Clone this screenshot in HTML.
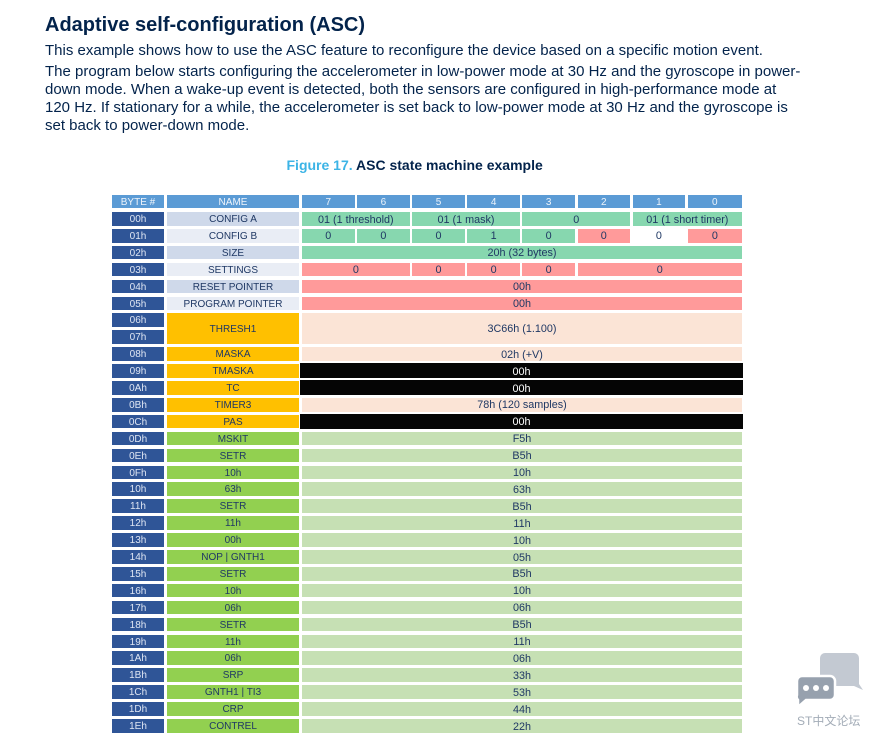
<!DOCTYPE html>
<html><head><meta charset="utf-8">
<style>
html,body{margin:0;padding:0;background:#fff;}
body{width:873px;height:736px;position:relative;overflow:hidden;font-family:"Liberation Sans",Arial,sans-serif;color:#03234b;}
.t{position:absolute;white-space:nowrap;}
.c{position:absolute;display:flex;align-items:center;justify-content:center;font-size:10.8px;color:#1f3864;height:13.7px;white-space:nowrap;overflow:hidden;box-sizing:border-box;padding-top:1.5px;}
.h{background:#5b9bd5;color:#eef4fb;height:12.7px;top:195px;font-size:10px;}
.b{background:#2f5597;color:#dfe6f3;left:112px;width:52px;font-size:10px;}
.n{left:167px;width:132px;font-size:10px;}
.na{background:#cfd9ea;}
.nb{background:#e9edf5;}
.no{background:#ffc000;}
.ng{background:#92d050;}
.g{background:#87d7af;}
.p{background:#ff9a9a;}
.pe{background:#fbe4d6;}
.k{background:#050505;color:#fff;left:300px;width:443px;}
.lg{background:#c6e0b4;left:302px;width:440px;}
.f{left:302px;width:440px;}
</style></head><body>

<div class="t" style="left:45px;top:13.4px;font-size:20px;line-height:24px;font-weight:bold;">Adaptive self-configuration (ASC)</div>
<div class="t" style="left:45px;top:42px;font-size:15px;line-height:18px;">This example shows how to use the ASC feature to reconfigure the device based on a specific motion event.</div>
<div class="t" style="left:45px;top:63.3px;font-size:15px;line-height:18px;">The program below starts configuring the accelerometer in low-power mode at 30 Hz and the gyroscope in power-<br>down mode. When a wake-up event is detected, both the sensors are configured in high-performance mode at<br>120 Hz. If stationary for a while, the accelerometer is set back to low-power mode at 30 Hz and the gyroscope is<br>set back to power-down mode.</div>
<div class="t" style="left:286.5px;top:156.5px;font-size:14px;line-height:16px;font-weight:bold;"><span style="color:#3cb4e6">Figure 17.</span> ASC state machine example</div>

<!-- header -->
<div class="c h" style="left:112px;width:52px;">BYTE #</div>
<div class="c h" style="left:167px;width:132px;">NAME</div>
<div class="c h" style="left:302px;width:52.6px;">7</div>
<div class="c h" style="left:357.1px;width:52.6px;">6</div>
<div class="c h" style="left:412.2px;width:52.6px;">5</div>
<div class="c h" style="left:467.3px;width:52.6px;">4</div>
<div class="c h" style="left:522.4px;width:52.6px;">3</div>
<div class="c h" style="left:577.5px;width:52.6px;">2</div>
<div class="c h" style="left:632.6px;width:52.6px;">1</div>
<div class="c h" style="left:687.7px;width:54.3px;">0</div>

<!-- 00h -->
<div class="c b" style="top:212px;">00h</div>
<div class="c n na" style="top:212px;">CONFIG A</div>
<div class="c g" style="top:212px;left:302px;width:107.7px;">01 (1 threshold)</div>
<div class="c g" style="top:212px;left:412.2px;width:107.7px;">01 (1 mask)</div>
<div class="c g" style="top:212px;left:522.4px;width:107.7px;">0</div>
<div class="c g" style="top:212px;left:632.6px;width:109.4px;">01 (1 short timer)</div>
<!-- 01h -->
<div class="c b" style="top:228.9px;">01h</div>
<div class="c n nb" style="top:228.9px;">CONFIG B</div>
<div class="c g" style="top:228.9px;left:302px;width:52.6px;">0</div>
<div class="c g" style="top:228.9px;left:357.1px;width:52.6px;">0</div>
<div class="c g" style="top:228.9px;left:412.2px;width:52.6px;">0</div>
<div class="c g" style="top:228.9px;left:467.3px;width:52.6px;">1</div>
<div class="c g" style="top:228.9px;left:522.4px;width:52.6px;">0</div>
<div class="c p" style="top:228.9px;left:577.5px;width:52.6px;">0</div>
<div class="c" style="top:228.9px;left:632.6px;width:52.6px;">0</div>
<div class="c p" style="top:228.9px;left:687.7px;width:54.3px;">0</div>
<!-- 02h -->
<div class="c b" style="top:245.8px;">02h</div>
<div class="c n na" style="top:245.8px;">SIZE</div>
<div class="c g f" style="top:245.8px;">20h (32 bytes)</div>
<!-- 03h -->
<div class="c b" style="top:262.7px;">03h</div>
<div class="c n nb" style="top:262.7px;">SETTINGS</div>
<div class="c p" style="top:262.7px;left:302px;width:107.7px;padding-top:0;">0</div>
<div class="c p" style="top:262.7px;left:412.2px;width:52.6px;">0</div>
<div class="c p" style="top:262.7px;left:467.3px;width:52.6px;">0</div>
<div class="c p" style="top:262.7px;left:522.4px;width:52.6px;">0</div>
<div class="c p" style="top:262.7px;left:577.5px;width:164.5px;padding-top:0;">0</div>
<!-- 04h -->
<div class="c b" style="top:279.6px;">04h</div>
<div class="c n na" style="top:279.6px;">RESET POINTER</div>
<div class="c p f" style="top:279.6px;">00h</div>
<!-- 05h -->
<div class="c b" style="top:296.5px;">05h</div>
<div class="c n nb" style="top:296.5px;">PROGRAM POINTER</div>
<div class="c p f" style="top:296.5px;">00h</div>
<!-- 06h/07h -->
<div class="c b" style="top:313.4px;">06h</div>
<div class="c b" style="top:330.3px;">07h</div>
<div class="c n no" style="top:313.4px;height:30.6px;">THRESH1</div>
<div class="c pe f" style="top:313.4px;height:30.6px;">3C66h (1.100)</div>
<!-- 08h -->
<div class="c b" style="top:347.2px;">08h</div>
<div class="c n no" style="top:347.2px;">MASKA</div>
<div class="c pe f" style="top:347.2px;">02h (+V)</div>
<!-- 09h -->
<div class="c b" style="top:364.1px;">09h</div>
<div class="c n no" style="top:364.1px;">TMASKA</div>
<div class="c k" style="top:363.4px;height:15px;">00h</div>
<!-- 0Ah -->
<div class="c b" style="top:381px;">0Ah</div>
<div class="c n no" style="top:381px;">TC</div>
<div class="c k" style="top:380.3px;height:15px;">00h</div>
<!-- 0Bh -->
<div class="c b" style="top:397.9px;">0Bh</div>
<div class="c n no" style="top:397.9px;">TIMER3</div>
<div class="c pe f" style="top:397.9px;">78h (120 samples)</div>
<!-- 0Ch -->
<div class="c b" style="top:414.8px;">0Ch</div>
<div class="c n no" style="top:414.8px;">PAS</div>
<div class="c k" style="top:414.1px;height:15px;">00h</div>

<div class="c b" style="top:431.7px;">0Dh</div><div class="c n ng" style="top:431.7px;">MSKIT</div><div class="c lg" style="top:431.7px;">F5h</div>
<div class="c b" style="top:448.6px;">0Eh</div><div class="c n ng" style="top:448.6px;">SETR</div><div class="c lg" style="top:448.6px;">B5h</div>
<div class="c b" style="top:465.5px;">0Fh</div><div class="c n ng" style="top:465.5px;">10h</div><div class="c lg" style="top:465.5px;">10h</div>
<div class="c b" style="top:482.4px;">10h</div><div class="c n ng" style="top:482.4px;">63h</div><div class="c lg" style="top:482.4px;">63h</div>
<div class="c b" style="top:499.3px;">11h</div><div class="c n ng" style="top:499.3px;">SETR</div><div class="c lg" style="top:499.3px;">B5h</div>
<div class="c b" style="top:516.2px;">12h</div><div class="c n ng" style="top:516.2px;">11h</div><div class="c lg" style="top:516.2px;">11h</div>
<div class="c b" style="top:533.1px;">13h</div><div class="c n ng" style="top:533.1px;">00h</div><div class="c lg" style="top:533.1px;">10h</div>
<div class="c b" style="top:550px;">14h</div><div class="c n ng" style="top:550px;">NOP | GNTH1</div><div class="c lg" style="top:550px;">05h</div>
<div class="c b" style="top:566.9px;">15h</div><div class="c n ng" style="top:566.9px;">SETR</div><div class="c lg" style="top:566.9px;">B5h</div>
<div class="c b" style="top:583.8px;">16h</div><div class="c n ng" style="top:583.8px;">10h</div><div class="c lg" style="top:583.8px;">10h</div>
<div class="c b" style="top:600.7px;">17h</div><div class="c n ng" style="top:600.7px;">06h</div><div class="c lg" style="top:600.7px;">06h</div>
<div class="c b" style="top:617.6px;">18h</div><div class="c n ng" style="top:617.6px;">SETR</div><div class="c lg" style="top:617.6px;">B5h</div>
<div class="c b" style="top:634.5px;">19h</div><div class="c n ng" style="top:634.5px;">11h</div><div class="c lg" style="top:634.5px;">11h</div>
<div class="c b" style="top:651.4px;">1Ah</div><div class="c n ng" style="top:651.4px;">06h</div><div class="c lg" style="top:651.4px;">06h</div>
<div class="c b" style="top:668.3px;">1Bh</div><div class="c n ng" style="top:668.3px;">SRP</div><div class="c lg" style="top:668.3px;">33h</div>
<div class="c b" style="top:685.2px;">1Ch</div><div class="c n ng" style="top:685.2px;">GNTH1 | TI3</div><div class="c lg" style="top:685.2px;">53h</div>
<div class="c b" style="top:702.1px;">1Dh</div><div class="c n ng" style="top:702.1px;">CRP</div><div class="c lg" style="top:702.1px;">44h</div>
<div class="c b" style="top:719px;">1Eh</div><div class="c n ng" style="top:719px;">CONTREL</div><div class="c lg" style="top:719px;">22h</div>

<!-- watermark icon -->
<svg style="position:absolute;left:0;top:0;" width="873" height="736" viewBox="0 0 873 736">
  <path d="M825 653 h29 a5 5 0 0 1 5 5 v26 l4 6 l-9 -4 h-29 a5 5 0 0 1 -5 -5 v-23 a5 5 0 0 1 5 -5 z" fill="#c3c9d2"/>
  <path d="M802 676 h28 a5 5 0 0 1 5 5 v14 a5 5 0 0 1 -5 5 h-24 l-8 7 v-7 a5 5 0 0 1 -1 -5 v-14 a5 5 0 0 1 5 -5 z" fill="#97a1ae" stroke="#fff" stroke-width="2.5"/>
  <circle cx="806" cy="688" r="3" fill="#fff"/>
  <circle cx="816" cy="688" r="3" fill="#fff"/>
  <circle cx="826" cy="688" r="3" fill="#fff"/>
  <text x="797" y="725" font-size="12" fill="#a3acb7" font-family="Liberation Sans, Noto Sans CJK SC, sans-serif">ST中文论坛</text>
</svg>
</body></html>
